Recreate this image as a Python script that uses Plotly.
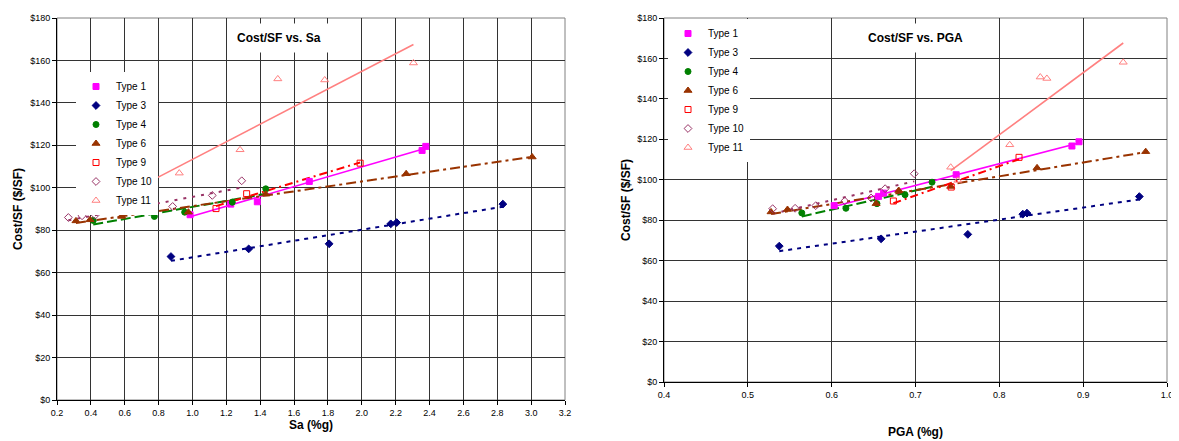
import numpy as np
import plotly.graph_objects as go

# ---------------- data: Cost/SF vs Sa (left) ----------------
type_names = ["Type 1", "Type 3", "Type 4", "Type 6", "Type 9", "Type 10", "Type 11"]

sa_t1 = [0.986, 1.226, 1.383, 1.69, 2.356, 2.378]
sa_cost_t1 = [87.3, 92.3, 93.4, 103.0, 117.6, 119.5]
sa_t3 = [0.873, 1.332, 1.807, 2.171, 2.206, 2.833]
sa_cost_t3 = [67.6, 71.2, 73.6, 83.0, 83.6, 92.3]
sa_t4 = [0.414, 0.775, 0.954, 1.235, 1.433]
sa_cost_t4 = [84.6, 86.5, 88.5, 93.2, 99.5]
sa_t6 = [0.312, 0.395, 0.582, 0.976, 1.433, 2.262, 3.006]
sa_cost_t6 = [84.4, 84.9, 86.5, 88.5, 97.0, 106.6, 114.5]
sa_t9 = [1.139, 1.32, 1.99]
sa_cost_t9 = [90.2, 97.2, 111.6]
sa_t10 = [0.267, 0.348, 0.426, 0.726, 0.883, 1.117, 1.291]
sa_cost_t10 = [86.0, 86.8, 87.1, 90.0, 91.2, 96.4, 103.3]
sa_t11 = [0.753, 0.922, 1.281, 1.504, 1.781, 2.305]
sa_cost_t11 = [100.3, 106.9, 117.9, 151.3, 150.8, 158.8]

# ---------------- data: Cost/SF vs PGA (right) ----------------
pga_t1 = [0.603, 0.656, 0.662, 0.7485, 0.8866, 0.895]
pga_cost_t1 = [87.2, 91.8, 93.4, 102.5, 116.7, 118.8]
pga_t3 = [0.5375, 0.659, 0.7624, 0.828, 0.833, 0.967]
pga_cost_t3 = [67.2, 70.8, 73.0, 83.0, 83.5, 91.7]
pga_t4 = [0.5644, 0.617, 0.654, 0.6875, 0.7197]
pga_cost_t4 = [83.6, 85.9, 88.2, 92.6, 98.8]
pga_t6 = [0.5277, 0.5473, 0.653, 0.68, 0.742, 0.845, 0.9746]
pga_cost_t6 = [84.1, 85.3, 88.2, 94.7, 96.7, 105.9, 113.9]
pga_t9 = [0.6736, 0.7426, 0.8235]
pga_cost_t9 = [89.5, 96.4, 111.1]
pga_t10 = [0.5296, 0.5564, 0.581, 0.6156, 0.647, 0.6638, 0.6985]
pga_cost_t10 = [85.7, 85.9, 87.2, 89.5, 91.0, 95.6, 103.0]
pga_t11 = [0.742, 0.7505, 0.8124, 0.8488, 0.8567, 0.9478]
pga_cost_t11 = [106.2, 99.7, 117.3, 150.8, 150.1, 158.1]

y_ticks = list(range(0, 181, 20))
y_tick_labels = ["$" + str(v) for v in y_ticks]
sa_ticks = [round(0.2 + 0.2 * i, 1) for i in range(16)]
pga_ticks = [round(0.4 + 0.1 * i, 1) for i in range(7)]

# ---------------- styles ----------------
colors = ["#FF00FF", "#000080", "#008000", "#993300", "#FF0000", "#993366", "#FF8080"]
symbols = ["square", "diamond", "circle", "triangle-up", "square-open", "diamond-open", "triangle-up-open"]
msizes = [6, 6, 6, 7, 6, 6, 7]
dashes = ["solid", "4px,5px", "10px,4px", "10px,4px,3px,4px", "8px,4px,2px,4px", "3px,6px", "solid"]
lwidths = [1.6, 2, 2, 2, 2, 2, 1.6]

sa_x = [sa_t1, sa_t3, sa_t4, sa_t6, sa_t9, sa_t10, sa_t11]
sa_y = [sa_cost_t1, sa_cost_t3, sa_cost_t4, sa_cost_t6, sa_cost_t9, sa_cost_t10, sa_cost_t11]
pga_x = [pga_t1, pga_t3, pga_t4, pga_t6, pga_t9, pga_t10, pga_t11]
pga_y = [pga_cost_t1, pga_cost_t3, pga_cost_t4, pga_cost_t6, pga_cost_t9, pga_cost_t10, pga_cost_t11]

FONT = "Liberation Sans, Arial, sans-serif"
OFF = 8  # default page body margin
W, H = 1179 - OFF, 441 - OFF


def px_x(p):
    return (p - OFF) / W


def px_y(p):
    return (H - (p - OFF)) / H


fig = go.Figure()


def add_panel(xs_list, ys_list, xa, ya, legend_id):
    for i, name in enumerate(type_names):
        xs = np.array(xs_list[i], dtype=float)
        ys = np.array(ys_list[i], dtype=float)
        # linear trendline (least squares) across the series' x span
        k, b = np.polyfit(xs, ys, 1)
        xl = np.array([xs.min(), xs.max()])
        fig.add_trace(go.Scatter(
            x=xl, y=k * xl + b, mode="lines", xaxis=xa, yaxis=ya,
            line=dict(color=colors[i], width=lwidths[i], dash=dashes[i]),
            showlegend=False, hoverinfo="skip"))
    for i, name in enumerate(type_names):
        fig.add_trace(go.Scatter(
            x=xs_list[i], y=ys_list[i], mode="markers", name=name,
            xaxis=xa, yaxis=ya, legend=legend_id,
            marker=dict(color=colors[i], symbol=symbols[i], size=msizes[i],
                        line=dict(color=colors[i], width=1))))


add_panel(sa_x, sa_y, "x", "y", "legend")
add_panel(pga_x, pga_y, "x2", "y2", "legend2")

grid = "#333333"
axis_common = dict(
    showgrid=True, gridcolor=grid, gridwidth=1, zeroline=False,
    showline=True, linecolor="#000000", linewidth=1, mirror=False,
    ticks="outside", ticklen=4, tickcolor="#000000",
    tickfont=dict(family=FONT, size=9, color="#000000"),
)

fig.update_layout(
    width=W, height=H,
    margin=dict(l=0, r=0, t=0, b=0, autoexpand=False),
    paper_bgcolor="white", plot_bgcolor="white",
    font=dict(family=FONT, color="#000000"),
    xaxis=dict(domain=[px_x(57), px_x(565)], anchor="y", range=[0.2, 3.2],
               tickmode="array", tickvals=sa_ticks, tickformat=".1f", **axis_common),
    yaxis=dict(domain=[px_y(400), px_y(18)], anchor="x", range=[0, 180],
               tickmode="array", tickvals=y_ticks, ticktext=y_tick_labels, **axis_common),
    xaxis2=dict(domain=[px_x(664), px_x(1167)], anchor="y2", range=[0.4, 1.0],
                tickmode="array", tickvals=pga_ticks, tickformat=".1f", **axis_common),
    yaxis2=dict(domain=[px_y(382), px_y(18)], anchor="x2", range=[0, 180],
                tickmode="array", tickvals=y_ticks, ticktext=y_tick_labels, **axis_common),
    legend=dict(x=px_x(76), y=px_y(72), xanchor="left", yanchor="top",
                bgcolor="white", borderwidth=0, itemsizing="trace",
                font=dict(family=FONT, size=10, color="#000000"),
                tracegroupgap=0),
    legend2=dict(x=px_x(668), y=px_y(19), xanchor="left", yanchor="top",
                 bgcolor="white", borderwidth=0, itemsizing="trace",
                 font=dict(family=FONT, size=10, color="#000000"),
                 tracegroupgap=0),
    showlegend=True,
)

# plot frame (top / right borders)
for xr, yr in [("x domain", "y domain"), ("x2 domain", "y2 domain")]:
    fig.add_shape(type="rect", xref=xr, yref=yr, x0=0, x1=1, y0=0, y1=1,
                  line=dict(color="#808080", width=1), layer="below")

annos = [
    dict(text="<b>Cost/SF vs. Sa</b>", x=px_x(279), y=px_y(38), size=12, bg="white"),
    dict(text="<b>Cost/SF vs. PGA</b>", x=px_x(915), y=px_y(38), size=12, bg="white"),
    dict(text="<b>Sa (%g)</b>", x=px_x(311), y=px_y(425), size=12, bg=None),
    dict(text="<b>PGA (%g)</b>", x=px_x(915), y=px_y(432), size=12, bg=None),
]
for a in annos:
    fig.add_annotation(text=a["text"], x=a["x"], y=a["y"], xref="paper", yref="paper",
                       xanchor="center", yanchor="middle", showarrow=False,
                       font=dict(family=FONT, size=a["size"], color="#000000"),
                       bgcolor=a["bg"] if a["bg"] else "rgba(0,0,0,0)", borderpad=7 if a["bg"] else 0)

for xpx, ypx in [(18, 209), (626, 200)]:
    fig.add_annotation(text="<b>Cost/SF ($/SF)</b>", x=px_x(xpx), y=px_y(ypx),
                       xref="paper", yref="paper", textangle=-90, showarrow=False,
                       xanchor="center", yanchor="middle",
                       font=dict(family=FONT, size=12, color="#000000"))

fig.write_html("out.html")
